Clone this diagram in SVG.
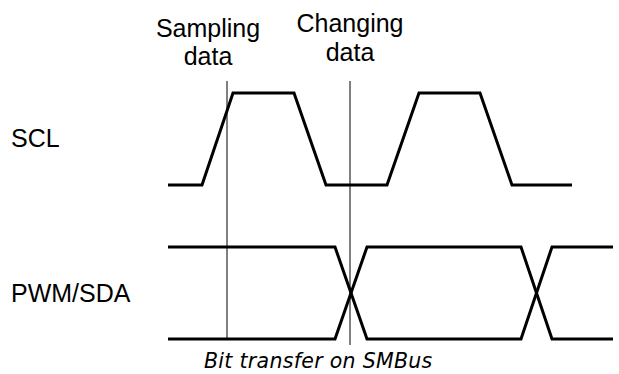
<svg xmlns="http://www.w3.org/2000/svg" width="619" height="374" viewBox="0 0 619 374">
<style>
.lbl{font-family:"Liberation Sans",Arial,sans-serif;font-size:25px;fill:#000}
.cap{font-family:"DejaVu Sans",Verdana,sans-serif;font-style:italic;font-size:20.5px;letter-spacing:0.3px;fill:#000}
.sig{fill:none;stroke:#000;stroke-width:3;stroke-linejoin:miter}
.mark{fill:none;stroke:#000;stroke-width:1}
</style>
<rect width="619" height="374" fill="#fff"/>
<g id="label-sampling">
<text class="lbl" x="208" y="37" text-anchor="middle">Sampling</text>
<text class="lbl" x="208" y="65" text-anchor="middle">data</text>
</g>
<g id="label-changing">
<text class="lbl" x="350" y="32" text-anchor="middle">Changing</text>
<text class="lbl" x="350" y="61" text-anchor="middle">data</text>
</g>
<g id="label-scl"><text class="lbl" x="11" y="147">SCL</text></g>
<g id="label-sda"><text class="lbl" x="11" y="302">PWM/SDA</text></g>
<g id="signals">
<path id="scl" class="sig" d="M168,185 H202 L233,93 H294 L326,185 H387 L419,93 H480 L512,185 H572"/>
<path id="sda-a" class="sig" d="M168,247 H335 L367,339 H521 L552,247 H613"/>
<path id="sda-b" class="sig" d="M168,339 H335 L367,247 H521 L552,339 H613"/>
</g>
<g id="connectors">
<line class="mark" x1="227" y1="81" x2="227" y2="339"/>
<line class="mark" x1="350" y1="81" x2="350" y2="345"/>
</g>
<g id="caption"><text class="cap" x="204" y="368">Bit transfer on SMBus</text></g>
</svg>
